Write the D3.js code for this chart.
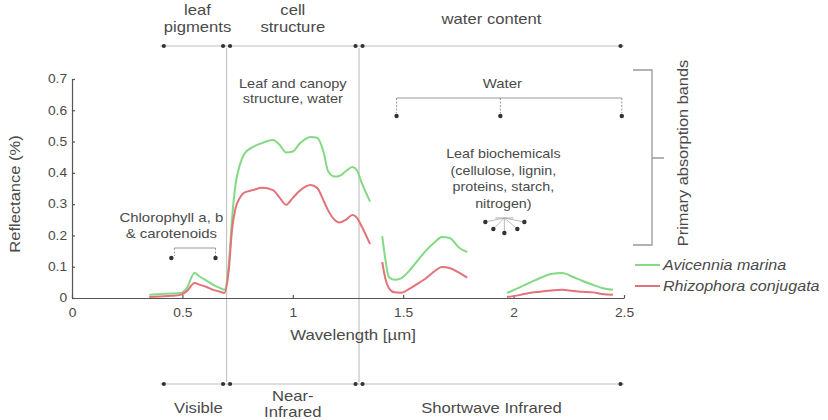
<!DOCTYPE html>
<html>
<head>
<meta charset="utf-8">
<script src="https://cdn.jsdelivr.net/npm/d3@7"></script>
<style>
  html, body { margin: 0; padding: 0; background: #fff; }
  svg { display: block; font-family: "Liberation Sans", Arial, Helvetica, sans-serif; }
  text { fill: #4a4a4a; }
</style>
</head>
<body>
<svg id="chart" width="828" height="420"></svg>
<script>
// Reflectance spectra of two mangrove species, split where the
// atmospheric water bands were removed.
const wlVisNir = [0.35, 0.40, 0.45, 0.49, 0.52, 0.555, 0.58, 0.61, 0.64, 0.67, 0.69, 0.71, 0.725, 0.74, 0.76, 0.78, 0.82, 0.86, 0.91, 0.94, 0.97, 1.00, 1.03, 1.08, 1.11, 1.14, 1.16, 1.19, 1.21, 1.24, 1.27, 1.29, 1.31, 1.35];
const aviVisNir = [0.010, 0.013, 0.014, 0.016, 0.032, 0.080, 0.068, 0.055, 0.042, 0.032, 0.026, 0.105, 0.255, 0.360, 0.425, 0.460, 0.483, 0.495, 0.505, 0.490, 0.465, 0.468, 0.493, 0.515, 0.512, 0.465, 0.405, 0.388, 0.390, 0.405, 0.419, 0.409, 0.372, 0.308];
const rhiVisNir = [0.003, 0.005, 0.007, 0.010, 0.022, 0.048, 0.042, 0.035, 0.026, 0.020, 0.016, 0.089, 0.220, 0.285, 0.320, 0.337, 0.345, 0.352, 0.345, 0.321, 0.298, 0.320, 0.342, 0.361, 0.352, 0.310, 0.280, 0.249, 0.241, 0.250, 0.265, 0.257, 0.232, 0.172];

const wlSwir1 = [1.405, 1.42, 1.435, 1.46, 1.49, 1.53, 1.575, 1.605, 1.645, 1.675, 1.71, 1.755, 1.79];
const aviSwir1 = [0.198, 0.120, 0.067, 0.058, 0.063, 0.089, 0.128, 0.153, 0.180, 0.195, 0.192, 0.160, 0.147];
const rhiSwir1 = [0.115, 0.060, 0.032, 0.018, 0.017, 0.030, 0.050, 0.064, 0.087, 0.099, 0.096, 0.080, 0.065];

const wlSwir2 = [1.97, 2.03, 2.07, 2.12, 2.17, 2.22, 2.27, 2.31, 2.36, 2.40, 2.45];
const aviSwir2 = [0.016, 0.035, 0.048, 0.064, 0.077, 0.080, 0.067, 0.055, 0.042, 0.032, 0.026];
const rhiSwir2 = [0.003, 0.010, 0.016, 0.020, 0.024, 0.026, 0.022, 0.020, 0.018, 0.013, 0.010];

const seriesNames = ["Avicennia marina", "Rhizophora conjugata"];
const seriesColors = ["#84d984", "#e4727a"];

const xTicks = [0, 0.5, 1, 1.5, 2, 2.5];
const yTicks = [0, 0.1, 0.2, 0.3, 0.4, 0.5, 0.6, 0.7];

// Spectral regions (µm) and the labels above / below the plot
const regionEdges = [0.4, 0.7, 1.3, 2.5];
const topLabels = [["leaf", "pigments"], ["cell", "structure"], ["water content"]];
const bottomLabels = [["Visible"], ["Near-", "Infrared"], ["Shortwave Infrared"]];

// Absorption features (µm)
const chlorophyllBands = [0.45, 0.65];
const waterBands = [1.47, 1.94, 2.49];

const svg = d3.select("#chart");
const x = d3.scaleLinear().domain([0, 2.5]).range([72, 624]);
const y = d3.scaleLinear().domain([0, 0.7]).range([298, 79]);

function label(g, px, py, s, o = {}) {
  const size = o.size || 13, sx = o.sx || 1.15, rot = o.rotate || 0;
  return g.append("text")
    .attr("transform", `translate(${px},${py}) rotate(${rot}) scale(${sx},1)`)
    .attr("text-anchor", o.anchor || "middle")
    .style("font-size", size + "px")
    .style("font-style", o.italic ? "italic" : null)
    .text(s);
}

const deco = svg.append("g");

// Region separators
deco.selectAll("line.sep").data(regionEdges.slice(1, -1)).join("line")
  .attr("x1", d => x(d)).attr("x2", d => x(d))
  .attr("y1", 48).attr("y2", 382)
  .attr("stroke", "#c4c4c4").attr("stroke-width", 1.2);

// Region brackets (top and bottom) with paired end dots
function regionBracket(yy) {
  deco.append("line")
    .attr("x1", x(regionEdges[0])).attr("x2", x(regionEdges[regionEdges.length - 1]))
    .attr("y1", yy).attr("y2", yy).attr("stroke", "#bdbdbd").attr("stroke-width", 1.2);
  const dots = [];
  regionEdges.forEach((e, i) => {
    if (i > 0) dots.push(x(e) - 3.5);
    if (i < regionEdges.length - 1) dots.push(x(e) + 3.5);
  });
  deco.selectAll(null).data(dots).join("circle")
    .attr("cx", d => d).attr("cy", yy).attr("r", 2.1).attr("fill", "#333");
}
regionBracket(46);
regionBracket(384);

topLabels.forEach((lines, i) => {
  const cx = x((regionEdges[i] + regionEdges[i + 1]) / 2);
  if (lines.length === 2) {
    label(deco, cx + (i === 0 ? 4 : 0), 15, lines[0], { size: 14, sx: 1.19 });
    label(deco, cx + (i === 0 ? 4 : 0), 32, lines[1], { size: 14, sx: 1.19 });
  } else {
    label(deco, cx, 24, lines[0], { size: 14, sx: 1.19 });
  }
});
bottomLabels.forEach((lines, i) => {
  const cx = x((regionEdges[i] + regionEdges[i + 1]) / 2);
  if (lines.length === 2) {
    label(deco, cx, 401, lines[0], { size: 14, sx: 1.19 });
    label(deco, cx, 417, lines[1], { size: 14, sx: 1.19 });
  } else {
    label(deco, cx + (i === 0 ? 5 : 0), 413, lines[0], { size: 14, sx: 1.19 });
  }
});

// Axes
const yAxis = d3.axisLeft(y).tickValues(yTicks).tickSizeInner(-3).tickSizeOuter(0)
  .tickFormat(d => d === 0 ? "0" : d3.format(".1f")(d));
const gy = svg.append("g").attr("transform", `translate(${x(0)},0)`).call(yAxis);
gy.selectAll("text").attr("x", -4.3).attr("transform", "scale(1.15,1)")
  .style("font-size", "12px").style("font-family", null);

const xAxis = d3.axisBottom(x).tickValues(xTicks).tickSizeInner(-3).tickSizeOuter(0)
  .tickFormat(d => String(d));
const gx = svg.append("g").attr("transform", `translate(0,${y(0)})`).call(xAxis);
gx.selectAll("text").attr("y", 19).attr("dy", null).attr("transform", "scale(1.15,1)")
  .style("font-size", "12px").style("font-family", null);

[gx, gy].forEach(g => {
  g.attr("font-family", null).attr("font-size", null);
  g.selectAll("path, line").attr("stroke", "#555").attr("stroke-width", 1.2);
  g.selectAll("text").attr("fill", "#4a4a4a");
});

label(svg, 353, 340, "Wavelength [µm]", { size: 14, sx: 1.2 });
label(svg, 20, 194, "Reflectance (%)", { size: 14, sx: 1.18, rotate: -90 });

// Spectra
const segments = [
  [wlVisNir, aviVisNir, rhiVisNir],
  [wlSwir1, aviSwir1, rhiSwir1],
  [wlSwir2, aviSwir2, rhiSwir2]
];
const line = d3.line().x(d => x(d[0])).y(d => y(d[1])).curve(d3.curveMonotoneX);
const plot = svg.append("g");
segments.forEach(([wl, avi, rhi]) => {
  [avi, rhi].forEach((vals, k) => {
    plot.append("path")
      .attr("d", line(wl.map((w, i) => [w, vals[i]])))
      .attr("fill", "none")
      .attr("stroke", seriesColors[k])
      .attr("stroke-width", 2)
      .attr("stroke-linejoin", "round");
  });
});

// Annotations
const ann = svg.append("g");
label(ann, x(1.0), 88, "Leaf and canopy", { size: 13, sx: 1.12 });
label(ann, x(1.0), 103, "structure, water", { size: 13, sx: 1.12 });

// Chlorophyll a, b & carotenoids
const chY = 248;
label(ann, x(chlorophyllBands[0]), 222, "Chlorophyll a, b", { size: 13, sx: 1.15 });
label(ann, x(chlorophyllBands[0]), 238, "& carotenoids", { size: 13, sx: 1.15 });
ann.append("line").attr("x1", x(chlorophyllBands[0]) + 3).attr("x2", x(chlorophyllBands[1]))
  .attr("y1", chY).attr("y2", chY).attr("stroke", "#999");
chlorophyllBands.forEach(b => {
  ann.append("line").attr("x1", x(b) + (b === chlorophyllBands[0] ? 3 : 0)).attr("x2", x(b) + (b === chlorophyllBands[0] ? 3 : 0))
    .attr("y1", chY).attr("y2", chY + 8).attr("stroke", "#999").attr("stroke-dasharray", "2,1.5");
  ann.append("circle").attr("cx", x(b)).attr("cy", chY + 10).attr("r", 2.2).attr("fill", "#333");
});

// Water bands
const wY = 98;
label(ann, x(waterBands[1]) + 2, 88, "Water", { size: 13, sx: 1.15 });
ann.append("line").attr("x1", x(waterBands[0])).attr("x2", x(waterBands[waterBands.length - 1]))
  .attr("y1", wY).attr("y2", wY).attr("stroke", "#999").attr("stroke-width", 1.2);
waterBands.forEach(b => {
  ann.append("line").attr("x1", x(b)).attr("x2", x(b)).attr("y1", wY).attr("y2", wY + 15)
    .attr("stroke", "#999").attr("stroke-dasharray", "2,1.5");
  ann.append("circle").attr("cx", x(b)).attr("cy", wY + 18).attr("r", 2.2).attr("fill", "#333");
});

// Leaf biochemicals
const bx = x(waterBands[1]) + 3;
["Leaf biochemicals", "(cellulose, lignin,", "proteins, starch,", "nitrogen)"].forEach((s, i) => {
  label(ann, bx, 158 + i * 16.7, s, { size: 13, sx: 1.1 });
});
const fan = [[-18, 6], [-10, 13], [1, 17], [14, 13], [21, 6]];
ann.append("line").attr("x1", bx - 8).attr("x2", bx + 10).attr("y1", 218).attr("y2", 218).attr("stroke", "#aaa");
fan.forEach(([dx, dy]) => {
  ann.append("line").attr("x1", bx + 1).attr("y1", 218).attr("x2", bx + dx).attr("y2", 216 + dy)
    .attr("stroke", "#aaa").attr("stroke-width", 0.8);
  ann.append("circle").attr("cx", bx + dx).attr("cy", 216 + dy).attr("r", 2.2).attr("fill", "#333");
});

// Primary absorption bands brace
ann.append("path")
  .attr("d", "M633,70 L652,70 L652,245 L633,245 M652,158 L664,158")
  .attr("fill", "none").attr("stroke", "#999").attr("stroke-width", 1.3);
label(ann, 688, 153, "Primary absorption bands", { size: 14, sx: 1.17, rotate: -90 });

// Legend
const leg = svg.append("g");
seriesNames.forEach((n, i) => {
  const ly = 265 + i * 21;
  leg.append("line").attr("x1", 635).attr("x2", 660).attr("y1", ly).attr("y2", ly)
    .attr("stroke", seriesColors[i]).attr("stroke-width", 2);
  label(leg, 663, ly + 5, n, { size: 14, sx: 1.15, anchor: "start", italic: true });
});
</script>
</body>
</html>
